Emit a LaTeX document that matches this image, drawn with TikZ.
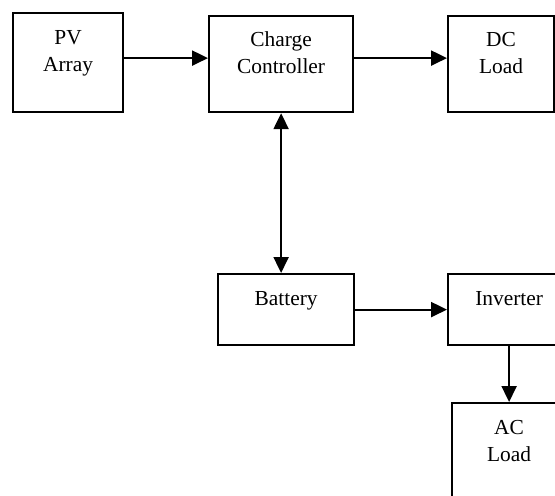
\documentclass[tikz,border=0pt]{standalone}
\usepackage{fontspec}
\setmainfont{Liberation Serif}
\usetikzlibrary{arrows.meta, positioning}
\tikzset{
  block/.style={draw, line width=1.1pt, anchor=north west, align=center, inner sep=0pt,
    font=\fontsize{10.7pt}{13.5pt}\selectfont},
  link/.style={-{Triangle[length=8pt, width=7.5pt]}, line width=1.1pt},
  duplex/.style={{Triangle[length=8pt, width=7.5pt]}-{Triangle[length=8pt, width=7.5pt]}, line width=1.1pt}
}

\begin{document}
\begin{tikzpicture}[x=0.5pt, y=-0.5pt]
        % Page frame
        \useasboundingbox (0,0) rectangle (555,496);
        \clip (0,0) rectangle (555,496);

        % Blocks
        \node[block, minimum width=55pt, minimum height=49.5pt] (pv)   at (12,12)   {PV\\Array\\[-2pt]~};
        \node[block, minimum width=72pt, minimum height=48pt]   (cc)   at (208,15)  {Charge\\Controller\\[-2pt]~};
        \node[block, minimum width=53pt, minimum height=48pt]   (dc)   at (447,15)  {DC\\Load\\[-2pt]~};
        \node[block, minimum width=68pt, minimum height=35.5pt] (batt) at (217,273) {Battery\\[-2pt]~};
        \node[block, minimum width=61pt, minimum height=35.5pt] (inv)  at (447,273) {Inverter\\[-2pt]~};
        \node[block, minimum width=57pt, minimum height=49.5pt] (ac)   at (451,402) {AC\\Load\\[-2pt]~};

        % Links
        \draw[link] ([yshift=2.25pt]pv.east) -- ([yshift=2.25pt]pv.east -| cc.west);
        \draw[link] ([yshift=3pt]cc.east) -- ([yshift=3pt]cc.east -| dc.west);
        \draw[duplex] (cc.south) -- (cc.south |- batt.north);
        \draw[link] (batt.east) -- (batt.east -| inv.west);
        \draw[link] (inv.south) -- (ac.north);
    \end{tikzpicture}
\end{document}
